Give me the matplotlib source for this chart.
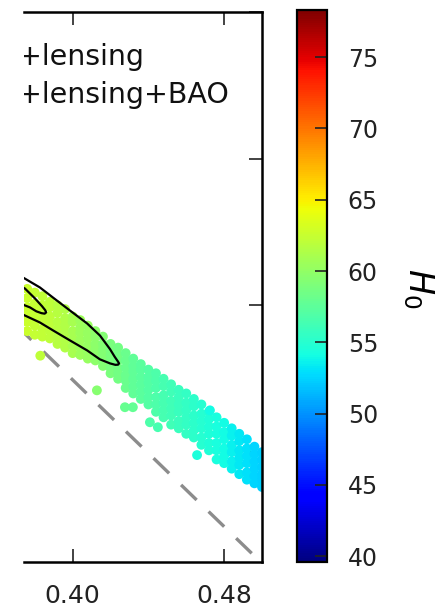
# Omega_m - sigma_8 plane, samples coloured by H0 (cropped panel)
import numpy as np
import matplotlib.pyplot as plt
import matplotlib as mpl

plt.rcParams['font.family'] = ['DejaVu Sans']

# sample columns (Omega_m) and the sigma_8 values read in each column
om_cols = [0.376, 0.380, 0.384, 0.388, 0.392, 0.396, 0.400, 0.404,
           0.408, 0.412, 0.416, 0.420, 0.424, 0.428, 0.432, 0.436,
           0.440, 0.444, 0.448, 0.452, 0.456, 0.460, 0.464, 0.468,
           0.472, 0.476, 0.480, 0.484, 0.488, 0.492, 0.496, 0.500]
s8_cols = [
    [0.729, 0.724, 0.719, 0.715, 0.711, 0.706],
    [0.727, 0.721, 0.717, 0.713, 0.709, 0.704],
    [0.725, 0.720, 0.716, 0.712, 0.707, 0.703],
    [0.722, 0.719, 0.714, 0.710, 0.706, 0.702],
    [0.720, 0.716, 0.711, 0.707, 0.703, 0.699],
    [0.718, 0.713, 0.709, 0.705, 0.701, 0.697],
    [0.714, 0.711, 0.706, 0.702, 0.698, 0.694],
    [0.712, 0.708, 0.705, 0.701, 0.697, 0.693],
    [0.709, 0.705, 0.702, 0.698, 0.695, 0.691],
    [0.706, 0.703, 0.699, 0.696, 0.693, 0.690],
    [0.703, 0.699, 0.696, 0.693, 0.690, 0.687],
    [0.699, 0.696, 0.693, 0.690, 0.686, 0.683],
    [0.697, 0.693, 0.690, 0.686, 0.683, 0.680],
    [0.694, 0.690, 0.686, 0.682, 0.679, 0.675],
    [0.691, 0.687, 0.684, 0.680, 0.676, 0.672],
    [0.688, 0.685, 0.681, 0.677, 0.673, 0.669],
    [0.685, 0.681, 0.678, 0.674, 0.670, 0.666],
    [0.683, 0.679, 0.675, 0.670, 0.666, 0.662],
    [0.680, 0.676, 0.671, 0.667, 0.663, 0.659],
    [0.677, 0.673, 0.668, 0.664, 0.660, 0.655],
    [0.674, 0.670, 0.666, 0.662, 0.657, 0.653],
    [0.672, 0.667, 0.663, 0.659, 0.655, 0.650],
    [0.669, 0.665, 0.660, 0.656, 0.652, 0.648],
    [0.666, 0.661, 0.657, 0.653, 0.648, 0.644],
    [0.662, 0.658, 0.654, 0.650, 0.645, 0.641],
    [0.659, 0.654, 0.650, 0.645, 0.641, 0.636],
    [0.656, 0.651, 0.647, 0.642, 0.638, 0.634],
    [0.653, 0.649, 0.644, 0.640, 0.635, 0.631],
    [0.650, 0.646, 0.641, 0.637, 0.633, 0.628],
    [0.647, 0.642, 0.638, 0.634, 0.629, 0.625],
    [0.643, 0.639, 0.635, 0.631, 0.627, 0.623],
    [0.640, 0.636, 0.632, 0.628, 0.625, 0.621],
]
h0_cols = [62.6, 62.4, 62.2, 62.0, 61.7, 61.4, 61.0, 60.6,
           60.2, 59.8, 59.3, 58.9, 58.5, 58.1, 57.7, 57.3,
           57.0, 56.7, 56.4, 56.1, 55.8, 55.5, 55.2, 54.9,
           54.6, 54.3, 54.0, 53.6, 53.3, 53.0, 52.6, 52.3]

# stray samples off the main band
om_out = [0.3829, 0.4128, 0.4276, 0.4318, 0.4408, 0.4450, 0.4725, 0.4657]
s8_out = [0.6926, 0.6737, 0.6645, 0.6645, 0.6563, 0.6536, 0.6628, 0.6384]
h0_out = [62.0, 59.5, 58.0, 57.8, 56.8, 56.5, 54.0, 54.5]

# 68/95% contours of the lensing+BAO combination (left ends run off the crop)
outer_om = [0.3711, 0.3748, 0.3827, 0.3896, 0.3986, 0.4076, 0.4144, 0.4197,
            0.4222, 0.4238, 0.4245, 0.4240, 0.4226, 0.4197, 0.4144, 0.4076,
            0.3986, 0.3896, 0.3827, 0.3748, 0.3711]
outer_s8 = [0.7368, 0.7346, 0.7298, 0.7243, 0.7172, 0.7102, 0.7036, 0.6962,
            0.6920, 0.6896, 0.6884, 0.6877, 0.6876, 0.6884, 0.6906, 0.6955,
            0.7009, 0.7064, 0.7107, 0.7145, 0.7162]
inner_om = [0.3711, 0.3748, 0.3801, 0.3838, 0.3855, 0.3860, 0.3852, 0.3835,
            0.3808, 0.3775, 0.3748, 0.3711]
inner_s8 = [0.7314, 0.7292, 0.7238, 0.7196, 0.7174, 0.7162, 0.7155, 0.7158,
            0.7168, 0.7189, 0.7200, 0.7216]

# dashed reference line
dash_om = [0.370, 0.500]
dash_s8 = [0.7094, 0.5794]

h0_min, h0_max = 39.6, 78.3

om = []
s8 = []
h0 = []
for x, ys, h in zip(om_cols, s8_cols, h0_cols):
    for y in ys:
        om.append(x)
        s8.append(y)
        h0.append(h)
om = np.array(om + om_out)
s8 = np.array(s8 + s8_out)
h0 = np.array(h0 + h0_out)

fig = plt.figure(figsize=(4.43, 6.12), dpi=100)
ax = fig.add_axes([24/443, 50/612, 238/443, 550/612])
cax = fig.add_axes([297/443, 50/612, 30/443, 552/612])

norm = mpl.colors.Normalize(vmin=h0_min, vmax=h0_max)
ax.plot(dash_om, dash_s8, color='#8c8c8c', lw=2.4, dashes=(6.5, 5), zorder=1)
sc = ax.scatter(om, s8, c=h0, cmap='jet', norm=norm, s=50, lw=0, zorder=2)
ax.plot(outer_om, outer_s8, color='black', lw=1.6, zorder=3)
ax.plot(inner_om, inner_s8, color='black', lw=1.6, zorder=3)

ax.set_xlim(0.3743, 0.500)
ax.set_ylim(0.5801, 0.8795)
ax.set_xticks([0.40, 0.48])
ax.set_xticklabels(['0.40', '0.48'])
ax.set_yticks([0.64, 0.72, 0.80, 0.88])
ax.tick_params(axis='x', direction='in', length=9.5, width=1.2, pad=16,
               labelsize=18, top=True, bottom=True, colors='#222222')
ax.tick_params(axis='y', direction='in', length=9.5, width=1.2, left=False,
               right=True, labelleft=False, colors='#222222')
ax.spines['left'].set_visible(False)
for sp in ['top', 'right', 'bottom']:
    ax.spines[sp].set_linewidth(1.8)

ax.text(-0.027, 0.9036, '+lensing', transform=ax.transAxes, fontsize=20.5,
        ha='left', va='baseline', clip_on=True, color='#111111')
ax.text(-0.027, 0.8345, '+lensing+BAO', transform=ax.transAxes, fontsize=20.5,
        ha='left', va='baseline', clip_on=True, color='#111111')

cb = fig.colorbar(sc, cax=cax)
cb.set_ticks([40, 45, 50, 55, 60, 65, 70, 75])
cb.ax.tick_params(direction='in', length=9, width=1.2, pad=15, labelsize=17,
                  colors='#222222')
cb.outline.set_linewidth(1.6)
fig.text(418/443, 1 - 288/612, r'$H_0$', rotation=270, fontsize=24,
         ha='center', va='center')

fig.savefig('out.png', dpi=100)
